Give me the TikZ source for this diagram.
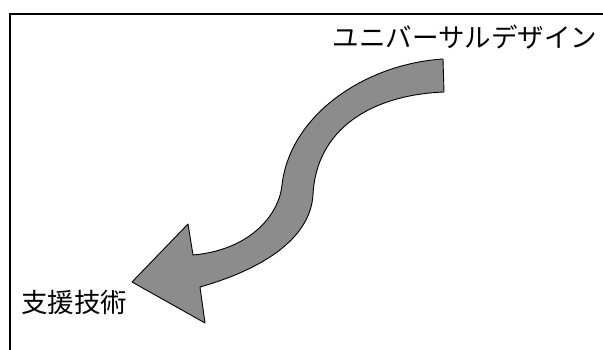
\documentclass[tikz,border=0pt]{standalone}
\usepackage{fontspec}
\usepackage{xcolor}
\usepackage{tikz}
\newfontfamily\jpfont{Noto Sans CJK JP}
\definecolor{arrowgray}{HTML}{8C8C8C}

\begin{document}
\begin{tikzpicture}[x=1pt,y=-1pt,
      every node/.style={font=\jpfont\fontsize{26.5}{30}\selectfont,inner sep=0pt},
      frame/.style={draw=black,line width=1.1pt},
      bigarrow/.style={fill=arrowgray,draw=black,line width=0.9pt,line join=round}]
      \useasboundingbox (0,0) rectangle (603,350);
      \draw[frame] (10,350) -- (10,14) -- (603,14);
      \node (ud) at (465,37.5) {ユニバーサルデザイン};
      \node (at) at (74,302) {支援技術};
      % curved arrow from top right down to the bottom left
      \path[bigarrow] (443,59) .. controls (365,64) and (290,115) .. (282,185)
        .. controls (279,215) and (250,250) .. (193,255)
        -- (188,224) -- (132,282) -- (205,323) -- (200,287)
        .. controls (260,270) and (310,240) .. (313,195)
        .. controls (316,130) and (370,95) .. (444,92) -- cycle;
    \end{tikzpicture}
\end{document}
